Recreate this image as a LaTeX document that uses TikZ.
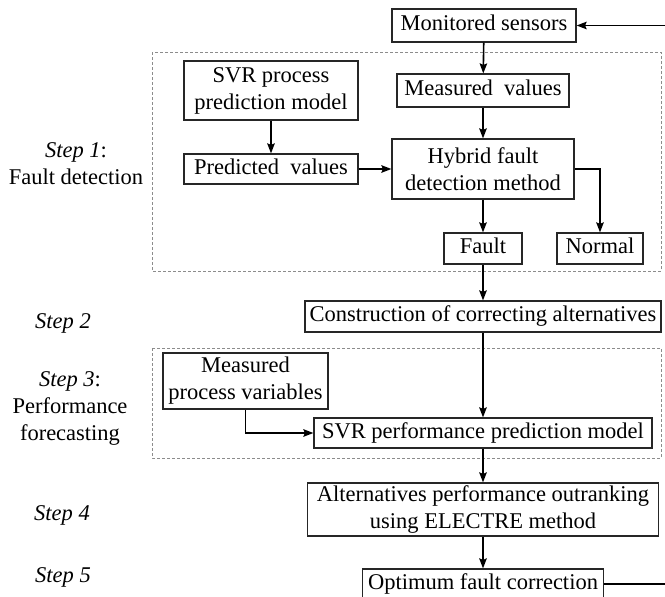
\documentclass[tikz,border=0pt]{standalone}
\usepackage{fontspec}
\setmainfont{Liberation Serif}
\usetikzlibrary{arrows.meta}

\begin{document}
\begin{tikzpicture}[x=1pt, y=-1pt,
    box/.style={draw=black!85, line width=1.2pt, inner sep=0pt, align=center,
      font=\fontsize{22.5}{27}\selectfont},
    one/.style={text height=15.5pt, text depth=5pt},
    lbl/.style={inner sep=0pt, align=center, font=\fontsize{22.5}{27}\selectfont},
    arr/.style={line width=1.6pt, -{Stealth[length=10pt, width=7.5pt, inset=1.5pt]}},
    grp/.style={draw=black!45, line width=0.9pt, dash pattern=on 3pt off 2pt}]
      \useasboundingbox (0,0) rectangle (665,597);
      %
      \draw[grp] (152,52) rectangle (661,271);    % step 1 frame
      \draw[grp] (152,348) rectangle (661,458);   % step 3 frame
      %
      \node[box, one, minimum width=184pt, minimum height=33pt] (mon) at (484,25.5) {Monitored sensors};
      \node[box, one, minimum width=172pt, minimum height=33pt] (meas) at (483,90.5) {Measured~ values};
      \node[box, minimum width=174pt, minimum height=59pt] (svrp) at (271,90.5) {SVR process\\prediction model};
      \node[box, one, minimum width=174pt, minimum height=30pt] (pred) at (271,169) {Predicted~ values};
      \node[box, minimum width=182pt, minimum height=60pt] (hyb) at (483,169) {Hybrid fault\\detection method};
      \node[box, one, minimum width=78pt, minimum height=31pt] (fault) at (483,248.5) {Fault};
      \node[box, one, minimum width=86pt, minimum height=31pt] (normal) at (600,248.5) {Normal};
      %
      \node[box, one, minimum width=356pt, minimum height=31pt] (cons) at (483,316.5) {Construction of correcting alternatives};
      \node[box, minimum width=165pt, minimum height=56pt] (mpv) at (245.5,381) {Measured\\process variables};
      \node[box, one, minimum width=338pt, minimum height=30pt] (perf) at (483,433) {SVR performance prediction model};
      \node[box, minimum width=351pt, minimum height=53pt] (alt) at (483,509.5) {Alternatives performance outranking\\using ELECTRE method};
      \node[box, one, minimum width=241pt, minimum height=30pt] (opt) at (483,584) {Optimum fault correction};
      %
      \node[lbl] (s1) at (76,163.5) {\textit{Step 1}:\\Fault detection};    % steps
      \node[lbl] (s2) at (63,323) {\textit{Step 2}};
      \node[lbl] (s3) at (70,408.5) {\textit{Step 3}:\\Performance\\forecasting};
      \node[lbl] (s4) at (62,515) {\textit{Step 4}};
      \node[lbl] (s5) at (63,577) {\textit{Step 5}};
      %
      \coordinate (fb) at (668,584);              % loop back, off the edge
      %
      \draw[arr] (mon) -- (meas);
      \draw[arr] (meas) -- (hyb);
      \draw[arr] (svrp) -- (pred);
      \draw[arr] (pred) -- (hyb);
      \draw[arr] (hyb) -- (fault);
      \draw[arr] (hyb.east) -| (normal.north);
      \draw[arr] (fault) -- (cons);
      \draw[arr] (cons) -- (perf);
      \draw[arr] (mpv.south) |- (perf.west);
      \draw[arr] (perf) -- (alt);
      \draw[arr] (alt) -- (opt);
      \draw[arr] (opt.east) -- (fb) |- (mon.east);
      %
    \end{tikzpicture}
\end{document}
